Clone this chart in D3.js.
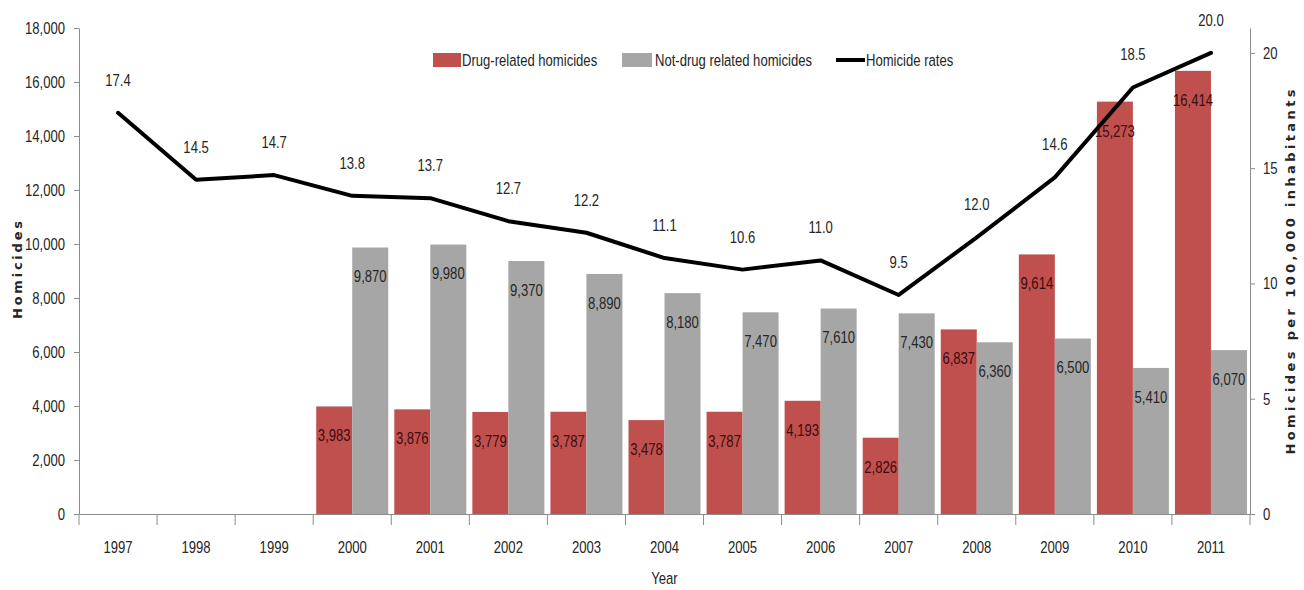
<!DOCTYPE html>
<html>
<head>
<meta charset="utf-8">
<script src="https://cdn.jsdelivr.net/npm/d3@7"></script>
<style>
  body { margin: 0; background: #fff; }
  svg { display: block; }
</style>
</head>
<body>
<div id="chart"></div>
<script>
const years = ["1997", "1998", "1999", "2000", "2001", "2002", "2003", "2004",
  "2005", "2006", "2007", "2008", "2009", "2010", "2011"];
const drugRelated = [null, null, null, 3983, 3876, 3779, 3787, 3478, 3787, 4193, 2826, 6837, 9614, 15273, 16414];
const notDrugRelated = [null, null, null, 9870, 9980, 9370, 8890, 8180, 7470, 7610, 7430, 6360, 6500, 5410, 6070];
const homicideRates = [17.4, 14.5, 14.7, 13.8, 13.7, 12.7, 12.2, 11.1, 10.6, 11.0, 9.5, 12.0, 14.6, 18.5, 20.0];
const leftTicks = [0, 2000, 4000, 6000, 8000, 10000, 12000, 14000, 16000, 18000];
const rightTicks = [0, 5, 10, 15, 20];
const seriesNames = ["Drug-related homicides", "Not-drug related homicides", "Homicide rates"];

const colorDrug = "#c0504d";
const colorOther = "#a6a6a6";
const axisColor = "#8c8c8c";
const textColor = "#262626";
const narrowFont = "Liberation Sans, Arial, sans-serif";
const fontSize = 17;
const squeeze = 0.77;

const width = 1304;
const height = 590;
const margin = { top: 28, right: 54, bottom: 76, left: 79 };

// tall, narrow text like the original: squeeze each label horizontally around its anchor
function narrow(sel) {
  sel.each(function () {
    const t = d3.select(this);
    const x0 = +(t.attr("x") || 0);
    t.attr("x", x0 / squeeze)
      .attr("transform", `scale(${squeeze},1)`)
      .attr("font-family", narrowFont)
      .attr("font-size", fontSize);
  });
}

const svg = d3
  .select("#chart")
  .append("svg")
  .attr("width", width)
  .attr("height", height);

const x = d3
  .scaleBand()
  .domain(years)
  .range([margin.left, width - margin.right])
  .padding(0);

const xInner = d3
  .scaleBand()
  .domain(["drug", "other"])
  .range([0, x.bandwidth()])
  .paddingInner(0)
  .paddingOuter(0.084);

const y = d3
  .scaleLinear()
  .domain([0, 18000])
  .range([height - margin.bottom, margin.top]);

const yRate = d3
  .scaleLinear()
  .domain([0, 21.08])
  .range([height - margin.bottom, margin.top]);

const rows = years.map((yr, i) => ({
  year: yr,
  drug: drugRelated[i],
  other: notDrugRelated[i],
  rate: homicideRates[i],
}));

// bars
const barRows = rows.filter((d) => d.drug != null);
const bars = svg.append("g");
bars
  .selectAll("rect.drug")
  .data(barRows)
  .join("rect")
  .attr("class", "drug")
  .attr("x", (d) => x(d.year) + xInner("drug"))
  .attr("width", xInner.bandwidth())
  .attr("y", (d) => y(d.drug))
  .attr("height", (d) => y(0) - y(d.drug))
  .attr("fill", colorDrug);
bars
  .selectAll("rect.other")
  .data(barRows)
  .join("rect")
  .attr("class", "other")
  .attr("x", (d) => x(d.year) + xInner("other"))
  .attr("width", xInner.bandwidth())
  .attr("y", (d) => y(d.other))
  .attr("height", (d) => y(0) - y(d.other))
  .attr("fill", colorOther);

// bar labels, just inside the end of each bar
const fmt = d3.format(",");
const labels = svg.append("g").attr("text-anchor", "middle");
labels
  .selectAll("text.drug")
  .data(barRows)
  .join("text")
  .attr("x", (d) => x(d.year) + xInner("drug") + xInner.bandwidth() / 2)
  .attr("y", (d) => y(d.drug) + 29)
  .attr("dy", "0.35em")
  .attr("fill", "#3a0d0d")
  .text((d) => fmt(d.drug))
  .call(narrow);
labels
  .selectAll("text.other")
  .data(barRows)
  .join("text")
  .attr("x", (d) => x(d.year) + xInner("other") + xInner.bandwidth() / 2)
  .attr("y", (d) => y(d.other) + 29)
  .attr("dy", "0.35em")
  .attr("fill", textColor)
  .text((d) => fmt(d.other))
  .call(narrow);

// axes
function styleAxis(g) {
  g.select(".domain").attr("stroke", axisColor);
  g.selectAll("line").attr("stroke", axisColor);
  g.selectAll("text").attr("fill", textColor).call(narrow);
}

const xAxis = svg
  .append("g")
  .attr("transform", `translate(0,${y(0)})`)
  .call(d3.axisBottom(x).tickSize(0).tickPadding(27))
  .call(styleAxis);
xAxis
  .selectAll("line.sep")
  .data(years.concat(["end"]))
  .join("line")
  .attr("class", "sep")
  .attr("x1", (d) => (d === "end" ? x.range()[1] : x(d)))
  .attr("x2", (d) => (d === "end" ? x.range()[1] : x(d)))
  .attr("y1", 0)
  .attr("y2", 11)
  .attr("stroke", axisColor);

svg
  .append("g")
  .attr("transform", `translate(${margin.left},0)`)
  .call(d3.axisLeft(y).tickValues(leftTicks).tickFormat(fmt).tickSize(5).tickSizeOuter(0).tickPadding(9))
  .call(styleAxis);

svg
  .append("g")
  .attr("transform", `translate(${width - margin.right},0)`)
  .call(d3.axisRight(yRate).tickValues(rightTicks).tickSize(5).tickSizeOuter(0).tickPadding(8))
  .call(styleAxis);

// axis titles
svg
  .append("text")
  .attr("transform", `translate(22,270) rotate(-90)`)
  .attr("text-anchor", "middle")
  .attr("font-family", "DejaVu Sans, sans-serif")
  .attr("font-weight", "bold")
  .attr("font-size", 13)
  .attr("textLength", 98)
  .attr("lengthAdjust", "spacing")
  .attr("fill", textColor)
  .text("Homicides");
svg
  .append("text")
  .attr("transform", `translate(1295,272) rotate(-90)`)
  .attr("text-anchor", "middle")
  .attr("font-family", "DejaVu Sans, sans-serif")
  .attr("font-weight", "bold")
  .attr("font-size", 13)
  .attr("textLength", 365)
  .attr("lengthAdjust", "spacing")
  .attr("fill", textColor)
  .text("Homicides per 100,000 inhabitants");
svg
  .append("text")
  .attr("x", (x.range()[0] + x.range()[1]) / 2)
  .attr("y", 578)
  .attr("dy", "0.35em")
  .attr("text-anchor", "middle")
  .attr("fill", textColor)
  .text("Year")
  .call(narrow);

// homicide rate line
const line = d3
  .line()
  .x((d) => x(d.year) + x.bandwidth() / 2)
  .y((d) => yRate(d.rate));
svg
  .append("path")
  .datum(rows)
  .attr("d", line)
  .attr("fill", "none")
  .attr("stroke", "#000")
  .attr("stroke-width", 4)
  .attr("stroke-linejoin", "round")
  .attr("stroke-linecap", "round");
svg
  .append("g")
  .attr("text-anchor", "middle")
  .selectAll("text")
  .data(rows)
  .join("text")
  .attr("x", (d) => x(d.year) + x.bandwidth() / 2)
  .attr("y", (d) => yRate(d.rate) - 33)
  .attr("dy", "0.35em")
  .attr("fill", textColor)
  .text((d) => d3.format(".1f")(d.rate))
  .call(narrow);

// legend
const legend = svg.append("g").attr("fill", textColor);
const legendX = [433, 622, 836];
const legendY = 60;
legend
  .append("rect")
  .attr("x", legendX[0])
  .attr("y", legendY - 7)
  .attr("width", 28)
  .attr("height", 14)
  .attr("fill", colorDrug);
legend
  .append("rect")
  .attr("x", legendX[1])
  .attr("y", legendY - 7)
  .attr("width", 30)
  .attr("height", 14)
  .attr("fill", colorOther);
legend
  .append("line")
  .attr("x1", legendX[2])
  .attr("x2", legendX[2] + 29)
  .attr("y1", legendY)
  .attr("y2", legendY)
  .attr("stroke", "#000")
  .attr("stroke-width", 4);
legend
  .selectAll("text")
  .data(seriesNames)
  .join("text")
  .attr("x", (d, i) => legendX[i] + [29, 33, 30][i])
  .attr("y", legendY)
  .attr("dy", "0.35em")
  .text((d) => d)
  .call(narrow);
</script>
</body>
</html>
